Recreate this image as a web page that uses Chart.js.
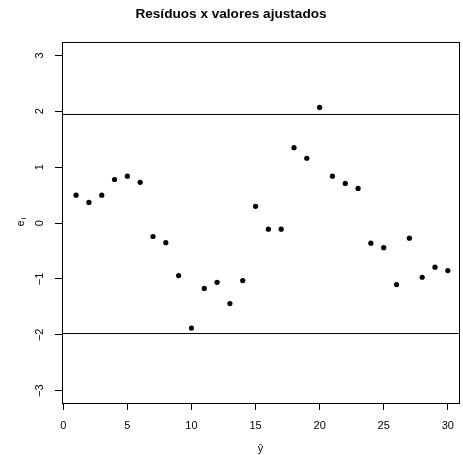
<!DOCTYPE html>
<html>
<head>
<meta charset="utf-8">
<script src="https://cdn.jsdelivr.net/npm/chart.js@4"></script>
<style>
  html, body { margin: 0; padding: 0; background: #fff; }
</style>
</head>
<body>
<canvas id="residPlot" width="463" height="455"></canvas>
<script>
const fitted = [1, 2, 3, 4, 5, 6, 7, 8, 9, 10, 11, 12, 13, 14, 15, 16, 17, 18, 19, 20, 21, 22, 23, 24, 25, 26, 27, 28, 29, 30];
const residuals = [0.50, 0.37, 0.50, 0.78, 0.84, 0.73, -0.24, -0.35, -0.94, -1.88, -1.17, -1.06, -1.44, -1.03, 0.30, -0.11, -0.11, 1.35, 1.16, 2.07, 0.84, 0.71, 0.62, -0.36, -0.44, -1.10, -0.27, -0.97, -0.79, -0.85];
const xTicks = [0, 5, 10, 15, 20, 25, 30];
const yTicks = [-3, -2, -1, 0, 1, 2, 3];
const limits = [-1.96, 1.96];

const fontFam = "'Liberation Sans', Arial, Helvetica, sans-serif";
Chart.defaults.font.family = fontFam;
Chart.defaults.color = "#000";

// box, reference lines, rotated y labels and axis titles
const rExtras = {
  id: "rExtras",
  beforeDatasetsDraw(chart) {
    const ctx = chart.ctx;
    const a = chart.chartArea;
    const ys = chart.scales.y;
    ctx.save();
    ctx.strokeStyle = "#000";
    ctx.lineWidth = 1;
    limits.forEach(function (v) {
      const py = Math.round(ys.getPixelForValue(v)) + 0.5;
      ctx.beginPath();
      ctx.moveTo(a.left, py);
      ctx.lineTo(a.right, py);
      ctx.stroke();
    });
    ctx.restore();
  },
  afterDraw(chart) {
    const ctx = chart.ctx;
    const a = chart.chartArea;
    const ys = chart.scales.y;
    ctx.save();
    ctx.strokeStyle = "#000";
    ctx.lineWidth = 1;
    ctx.strokeRect(Math.round(a.left) + 0.5, Math.round(a.top) + 0.5,
      Math.round(a.right - a.left), Math.round(a.bottom - a.top));

    ctx.fillStyle = "#000";
    ctx.font = "11px " + fontFam;
    ctx.textAlign = "center";
    ctx.textBaseline = "middle";
    yTicks.forEach(function (v) {
      ctx.save();
      ctx.translate(40, ys.getPixelForValue(v));
      ctx.rotate(-Math.PI / 2);
      ctx.fillText(v < 0 ? "\u2212" + Math.abs(v) : String(v), 0, 0);
      ctx.restore();
    });

    // y title: e with subscript i
    ctx.save();
    ctx.translate(21, (a.top + a.bottom) / 2);
    ctx.rotate(-Math.PI / 2);
    ctx.font = "11px " + fontFam;
    ctx.fillText("e", -1, 0);
    ctx.font = "8px " + fontFam;
    ctx.fillText("i", 4, 3);
    ctx.restore();

    // x title
    ctx.font = "11px " + fontFam;
    ctx.fillText("\u0177", (a.left + a.right) / 2, 449);
    ctx.restore();
  }
};

const ctxPlot = document.getElementById("residPlot").getContext("2d");
const residPlot = new Chart(ctxPlot, {
  type: "scatter",
  data: {
    datasets: [
      {
        data: fitted.map(function (x, i) { return { x: x, y: residuals[i] }; }),
        backgroundColor: "#000",
        borderColor: "#000",
        pointRadius: 2.6,
        pointHoverRadius: 2.6,
        borderWidth: 0,
      },
    ],
  },
  options: {
    responsive: false,
    animation: false,
    devicePixelRatio: 1,
    layout: { padding: { top: 0, right: 1, left: 0, bottom: 0 } },
    plugins: {
      legend: { display: false },
      tooltip: { enabled: false },
      title: {
        display: true,
        text: "Resíduos x valores ajustados",
        color: "#000",
        font: { size: 13.6, weight: "bold" },
        padding: { top: 5.7, bottom: 20 },
      },
    },
    scales: {
      x: {
        type: "linear",
        min: -0.1,
        max: 30.86,
        afterBuildTicks: function (s) { s.ticks = xTicks.map(function (v) { return { value: v }; }); },
        afterFit: function (s) { s.height = 52; },
        grid: { drawOnChartArea: false, color: "#000", tickLength: 7 },
        border: { display: false },
        ticks: { color: "#000", font: { size: 11 }, padding: 9, maxRotation: 0, autoSkip: false },
      },
      y: {
        type: "linear",
        min: -3.22,
        max: 3.24,
        afterBuildTicks: function (s) { s.ticks = yTicks.map(function (v) { return { value: v }; }); },
        afterFit: function (s) { s.width = 62; },
        grid: { drawOnChartArea: false, color: "#000", tickLength: 7 },
        border: { display: false },
        ticks: { display: false },
      },
    },
  },
  plugins: [rExtras],
});
</script>
</body>
</html>
